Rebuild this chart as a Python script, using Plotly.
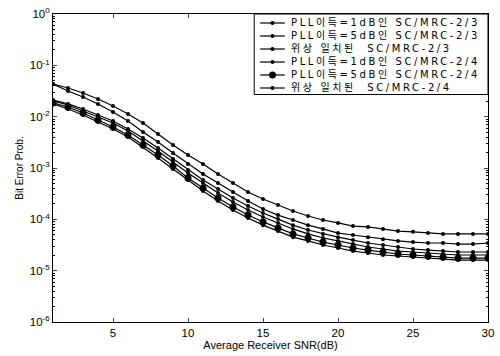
import plotly.graph_objects as go

snr = list(range(1, 31))

names = [
    "PLL이득=1dB인 SC/MRC-2/3",
    "PLL이득=5dB인 SC/MRC-2/3",
    "위상 일치된  SC/MRC-2/3",
    "PLL이득=1dB인 SC/MRC-2/4",
    "PLL이득=5dB인 SC/MRC-2/4",
    "위상 일치된  SC/MRC-2/4",
]

pll1_23 = [0.0433, 0.0362, 0.0289, 0.0221, 0.0161, 0.0113, 0.00752, 0.00459, 0.00281, 0.00179,
           0.00120, 0.000764, 0.000510, 0.000341, 0.000249, 0.000190, 0.000145, 0.000116, 9.7e-5, 8.5e-5,
           7.4e-5, 7.1e-5, 6.5e-5, 5.9e-5, 5.7e-5, 5.4e-5, 5.2e-5, 5.2e-5, 5.2e-5, 5.2e-5]
pll5_23 = [0.0433, 0.0316, 0.0242, 0.0177, 0.0123, 0.00823, 0.00503, 0.00321, 0.00196, 0.00120,
           0.000764, 0.000510, 0.000341, 0.000228, 0.000159, 0.000121, 9.7e-5, 7.7e-5, 6.5e-5, 5.4e-5,
           4.95e-5, 4.5e-5, 4.1e-5, 3.8e-5, 3.6e-5, 3.46e-5, 3.46e-5, 3.3e-5, 3.3e-5, 3.46e-5]
coh_23 = [0.0211, 0.0177, 0.0141, 0.0108, 0.00823, 0.00575, 0.00384, 0.00245, 0.00150, 0.000914,
          0.000583, 0.000390, 0.000260, 0.000182, 0.000133, 0.000101, 7.7e-5, 6.2e-5, 5.2e-5, 4.5e-5,
          3.95e-5, 3.46e-5, 3.16e-5, 2.89e-5, 2.64e-5, 2.52e-5, 2.41e-5, 2.31e-5, 2.31e-5, 2.31e-5]
pll1_24 = [0.0202, 0.0169, 0.0129, 0.00985, 0.00752, 0.00526, 0.00336, 0.00214, 0.00131, 0.000798,
           0.000510, 0.000326, 0.000217, 0.000152, 0.000111, 8.5e-5, 6.5e-5, 5.2e-5, 4.33e-5, 3.8e-5,
           3.3e-5, 2.89e-5, 2.64e-5, 2.41e-5, 2.31e-5, 2.21e-5, 2.11e-5, 2.02e-5, 2.02e-5, 2.02e-5]
pll5_24 = [0.0185, 0.0154, 0.0118, 0.00861, 0.00629, 0.00440, 0.00281, 0.00179, 0.00109, 0.000638,
           0.000407, 0.000260, 0.000174, 0.000121, 8.9e-5, 6.8e-5, 5.2e-5, 4.33e-5, 3.6e-5, 3.16e-5,
           2.76e-5, 2.52e-5, 2.31e-5, 2.11e-5, 2.02e-5, 1.93e-5, 1.85e-5, 1.76e-5, 1.76e-5, 1.76e-5]
coh_24 = [0.0177, 0.0141, 0.0108, 0.00787, 0.00575, 0.00402, 0.00256, 0.00157, 0.000955, 0.000583,
          0.000356, 0.000228, 0.000152, 0.000106, 7.7e-5, 5.9e-5, 4.5e-5, 3.8e-5, 3.16e-5, 2.76e-5,
          2.41e-5, 2.21e-5, 2.02e-5, 1.93e-5, 1.85e-5, 1.76e-5, 1.69e-5, 1.61e-5, 1.61e-5, 1.61e-5]

series = [pll1_23, pll5_23, coh_23, pll1_24, pll5_24, coh_24]
marker_sizes = [4, 4, 4, 4, 7, 4]

y_tickvals = [1e0, 1e-1, 1e-2, 1e-3, 1e-4, 1e-5, 1e-6]
y_ticktext = ["10<sup>0</sup>", "10<sup>-1</sup>", "10<sup>-2</sup>", "10<sup>-3</sup>",
              "10<sup>-4</sup>", "10<sup>-5</sup>", "10<sup>-6</sup>"]
x_tickvals = [5, 10, 15, 20, 25, 30]

minor_vals = [k * 10.0 ** e for e in range(-6, 0) for k in range(2, 10)]

fig = go.Figure()
for name, vals, ms in zip(names, series, marker_sizes):
    fig.add_trace(go.Scatter(
        x=snr, y=vals, name=name, mode="lines+markers",
        line=dict(color="black", width=1.2),
        marker=dict(color="black", size=ms, symbol="circle"),
        showlegend=False,
    ))

# ---- hand-built compact legend (rows tighter than Plotly's native legend allows) ----
PLOT_W = 441.0
PLOT_H = 308.0
def px_x(p):
    return (p - 53) / PLOT_W
def px_y(p):
    return (322 - p) / PLOT_H

LEG_FS = 10
ROW_GAP = 1.3 * LEG_FS
FIRST_ROW = 23.0
row_px = [FIRST_ROW + i * ROW_GAP for i in range(len(names))]
box_bottom = row_px[-1] + 6.5

shapes = [dict(type="rect", xref="paper", yref="paper",
               x0=px_x(257), x1=1.0, y0=px_y(box_bottom), y1=1.0,
               line=dict(color="black", width=1), fillcolor="white", layer="above")]
for ms, rp in zip(marker_sizes, row_px):
    yy = px_y(rp)
    shapes.append(dict(type="line", xref="paper", yref="paper",
                       x0=px_x(263), x1=px_x(288), y0=yy, y1=yy,
                       line=dict(color="black", width=1.2), layer="above"))
    r = ms / 2.0
    shapes.append(dict(type="circle", xref="paper", yref="paper",
                       xsizemode="pixel", ysizemode="pixel",
                       xanchor=px_x(275.5), yanchor=yy,
                       x0=-r, x1=r, y0=-r, y1=r,
                       line=dict(color="black", width=0), fillcolor="black", layer="above"))

legend_text = "<br>".join(
    '<span style="letter-spacing:2.6px">%s</span>' % n for n in names
)
center_px = (row_px[0] + row_px[-1]) / 2.0
annotations = [dict(xref="paper", yref="paper", x=px_x(293), y=px_y(center_px),
                    xanchor="left", yanchor="middle", align="left", showarrow=False,
                    text=legend_text, borderpad=0,
                    font=dict(family="DejaVu Sans, Noto Sans CJK KR, sans-serif",
                              size=LEG_FS, color="black"))]

axis_font = dict(family="Liberation Sans, Arial, sans-serif", size=11.5, color="black")

fig.update_layout(
    width=500, height=356,
    margin=dict(l=53, r=6, t=14, b=34),
    paper_bgcolor="white", plot_bgcolor="white",
    font=dict(family="Liberation Sans, Arial, sans-serif", color="black"),
    showlegend=False,
    shapes=shapes,
    annotations=annotations,
    xaxis=dict(
        range=[1, 30], tickvals=x_tickvals, ticks="inside", ticklen=4,
        showgrid=False, zeroline=False, showline=True, linecolor="black", linewidth=1,
        mirror="ticks", tickfont=axis_font, ticklabeloverflow="allow",
        title=dict(text="Average Receiver SNR(dB)", font=dict(family="Liberation Sans, Arial, sans-serif", size=11), standoff=2),
    ),
    yaxis=dict(
        type="log", range=[-6, 0], tickvals=y_tickvals, ticktext=y_ticktext,
        ticks="inside", ticklen=4, showgrid=False, zeroline=False,
        showline=True, linecolor="black", linewidth=1, mirror="ticks", tickfont=axis_font,
        minor=dict(tickvals=minor_vals, ticks="inside", ticklen=2, tickcolor="black", showgrid=False),
        title=dict(text="Bit Error Prob.", font=dict(family="Liberation Sans, Arial, sans-serif", size=10), standoff=4),
    ),
)

fig.write_html("out.html")
